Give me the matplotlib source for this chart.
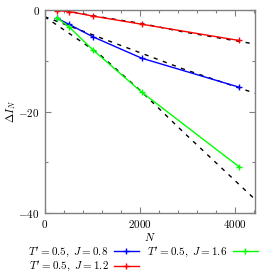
import matplotlib
matplotlib.use("Agg")
import matplotlib.pyplot as plt
from matplotlib.ticker import MultipleLocator

plt.rcParams['mathtext.fontset'] = 'cm'
plt.rcParams['font.family'] = 'serif'
plt.rcParams['font.serif'] = ['DejaVu Serif']

# system sizes
N = [256, 512, 1024, 2048, 4096]

# Delta I_N for T'=0.5
dI_J08 = [-1.6, -2.8, -5.3, -9.5, -15.2]
dI_J12 = [-0.1, -0.3, -1.2, -2.8, -6.0]
dI_J16 = [-1.5, -3.3, -7.9, -16.2, -30.9]

# dashed guide curves
fit_N = [0, 1130, 2010, 2916, 4430]
fit_J08 = [-1.3, -5.3, -8.4, -11.6, -16.4]
fit_J12 = [0.6, -1.3, -2.6, -4.3, -6.7]
fit_J16 = [-1.3, -8.5, -15.8, -24.0, -37.3]

labels = [r"$T' = 0.5,\ J = 0.8$", r"$T' = 0.5,\ J = 1.2$", r"$T' = 0.5,\ J = 1.6$"]
colors = ['#0000ff', '#ff0000', '#00ff00']

fig = plt.figure(figsize=(2.75, 2.75), dpi=100)
ax = fig.add_axes([0.162, 0.2255, 0.765, 0.738])

for fy in (fit_J08, fit_J12, fit_J16):
    ax.plot(fit_N, fy, color='black', lw=1.0, ls=(0, (3, 4)))

handles = []
for y, c, lab in zip((dI_J08, dI_J12, dI_J16), colors, labels):
    h, = ax.plot(N, y, color=c, lw=1.0, marker='+', ms=5, mew=1.0, label=lab)
    handles.append(h)

ax.set_xlim(0, 4430)
ax.set_ylim(-40, 0)
ax.xaxis.set_major_locator(MultipleLocator(2000))
ax.xaxis.set_minor_locator(MultipleLocator(400))
ax.yaxis.set_major_locator(MultipleLocator(20))
ax.yaxis.set_minor_locator(MultipleLocator(10))
ax.set_xticks([0, 2000, 4000])
ax.set_xticklabels([r'$0$', r'$2000$', r'$4000$'])
ax.set_yticks([0, -20, -40])
ax.set_yticklabels([r'$0$', r'$-20$', r'$-40$'])
ax.tick_params(which='both', direction='in', top=True, right=True,
               colors='#808080', labelcolor='black', labelsize=8)
ax.tick_params(which='major', length=4, width=0.8)
ax.tick_params(which='minor', length=2, width=0.8)
for s in ax.spines.values():
    s.set_color('#808080')
    s.set_linewidth(1.0)

ax.set_xlabel(r'$N$', fontsize=8, labelpad=1)
ax.set_ylabel(r'$\Delta I_N$', fontsize=8, labelpad=0)

fig.legend(handles=handles, ncol=2, loc='upper center', bbox_to_anchor=(0.52, 0.128),
           frameon=False, markerfirst=False, fontsize=8, handlelength=2.2,
           handletextpad=0.5, columnspacing=0.8, labelspacing=0.02, borderpad=0)

fig.savefig('out.png', dpi=100)
